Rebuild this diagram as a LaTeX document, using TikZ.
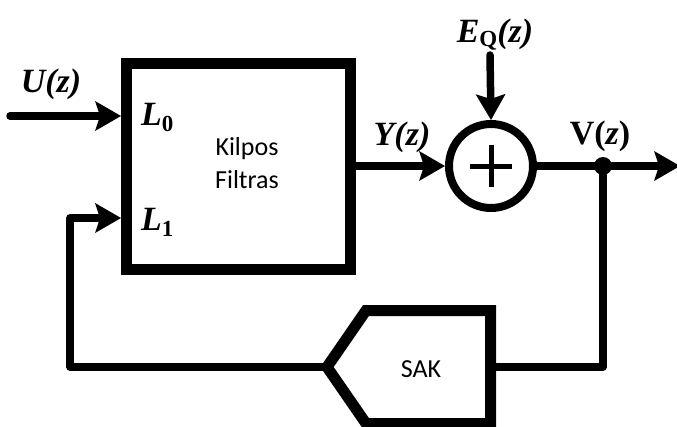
\documentclass[tikz,border=0pt]{standalone}
\usepackage{fontspec}
\setmainfont{Liberation Serif}
\newfontfamily\calib{Carlito}
\usetikzlibrary{arrows.meta}
\newcommand{\lsub}[2][-6pt]{\raisebox{#1}{\textup{\fontsize{23}{25}\selectfont #2}}}
\begin{document}
\begin{tikzpicture}[x=1pt,y=-1pt,
  conn/.style={line width=7.5pt, line join=round, line cap=round},
  arr/.style={conn, -{Stealth[length=26pt,width=30pt,inset=5pt,line width=0pt]}},
  lbl/.style={font=\fontsize{34}{38}\selectfont\bfseries\itshape, inner sep=0pt, anchor=base},
  txt/.style={font=\calib\fontsize{26}{30}\selectfont, inner sep=0pt, anchor=base},
  blk/.style={draw, line width=11pt, inner sep=0pt, miter limit=10}
]
\useasboundingbox (0,0) rectangle (677,426);
\clip (0,0) rectangle (677,426);
% main block
\node[blk, minimum width=224pt, minimum height=205.5pt] (box) at (238.5,166.25) {};
\node[txt] (kil) at (247,155) {Kilpos};
\node[txt] (fil) at (247,188) {Filtras};
\node[lbl, anchor=base west] (l0) at (141,125) {L\lsub{0}};
\node[lbl, anchor=base west] (l1) at (141,230) {L\lsub{1}};
% summing junction
\node[draw, circle, line width=8pt, minimum size=84pt, inner sep=0pt] (sum) at (491,166) {};
\draw[line width=5pt] ([xshift=-21pt]sum.center) -- ([xshift=21pt]sum.center);
\draw[line width=5pt] ([yshift=-21pt]sum.center) -- ([yshift=21pt]sum.center);
% input
\coordinate (uin) at (10,116);
\draw[arr] (uin) -- (box.west |- uin);
\node[lbl] (ulab) at (51,92) {U(z)};
% Y(z)
\draw[arr] (box.east |- sum.west) -- (sum.west);
\node[lbl] (ylab) at (402,145) {Y(z)};
% E_Q(z)
\coordinate (eq) at (490,55);
\draw[arr] (eq) -- (sum.north);
\node[lbl] (eqlab) at (495,42) {E\lsub[-4pt]{Q}(z)};
% output
\node[circle, fill, minimum size=18pt, inner sep=0pt] (dot) at (603,166) {};
\coordinate (out) at (680,166);
\draw[arr] (sum.east) -- (out);
\node[font=\fontsize{34}{38}\selectfont\bfseries, inner sep=0pt, anchor=base] (vlab) at (600,144) {V(\textit{z})};
% SAK
\coordinate (sakL) at (327,367);
\coordinate (sakR) at (490.5,367);
\coordinate (fb1) at (70,367);
\coordinate (fb2) at (70,218);
\draw[conn] (dot.center) |- (sakR);
\draw[arr] (sakL) -- (fb1) -- (fb2) -- (box.west |- fb2);
\draw[blk, fill=white] (sakL) -- (366,310.5) -- (490.5,310.5) -- (490.5,423.5) -- (366,423.5) -- cycle;
\node[txt] (sak) at (421,377) {SAK};
\end{tikzpicture}
\end{document}
